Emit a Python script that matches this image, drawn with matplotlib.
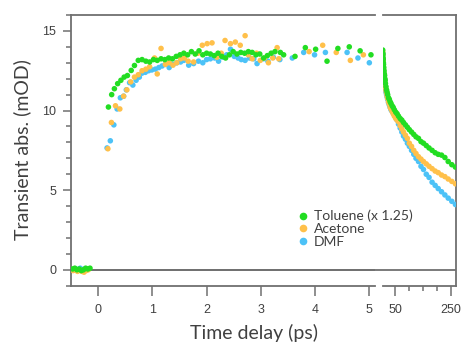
import numpy as np
import matplotlib.pyplot as plt
from matplotlib.ticker import MultipleLocator, FixedLocator

# --- early delays (linear panel, ps) ---
tol_t = [-0.47, -0.43, -0.39, -0.35, -0.31, -0.27, -0.23, -0.19, -0.15,
         0.19, 0.25, 0.30, 0.36, 0.42, 0.48, 0.54, 0.61, 0.67, 0.74, 0.81, 0.88, 0.95,
         1.02, 1.09, 1.16, 1.23, 1.30, 1.37, 1.44, 1.51, 1.58, 1.65, 1.72, 1.79, 1.86,
         1.93, 2.00, 2.07, 2.14, 2.21, 2.28, 2.35, 2.42, 2.49, 2.56, 2.63, 2.70, 2.77,
         2.84, 2.91, 2.98, 3.05, 3.12, 3.19, 3.26, 3.36, 3.42, 3.63, 3.82, 4.01, 4.22,
         4.42, 4.63, 4.83, 5.03]
tol_v = [0.05, 0.1, 0.0, 0.05, -0.05, 0.0, 0.1, 0.05, 0.1,
         10.22, 11.0, 11.37, 11.69, 11.9, 12.1, 12.2, 12.52, 12.83, 13.15, 13.2, 13.1, 13.05,
         13.2, 13.15, 13.25, 13.2, 13.3, 13.25, 13.4, 13.5, 13.6, 13.5, 13.7, 13.55, 13.75,
         13.5, 13.6, 13.55, 13.45, 13.6, 13.4, 13.3, 13.5, 13.7, 13.55, 13.65, 13.6, 13.7,
         13.65, 13.5, 13.55, 13.3, 13.45, 13.6, 13.7, 13.65, 13.5, 13.4, 13.95, 13.85, 13.1,
         13.9, 14.0, 13.75, 13.5]

ace_t = [-0.46, -0.42, -0.38, -0.34, -0.30, -0.26, -0.22, -0.18,
         0.18, 0.245, 0.32, 0.40, 0.47, 0.53, 0.60, 0.67, 0.74, 0.81, 0.88, 0.95,
         1.04, 1.09, 1.16, 1.24, 1.31, 1.38, 1.45, 1.52, 1.59, 1.66, 1.76, 1.84, 1.92,
         2.01, 2.10, 2.19, 2.27, 2.34, 2.44, 2.53, 2.62, 2.71, 2.77, 2.84, 2.92, 2.99,
         3.07, 3.14, 3.22, 3.30, 3.33, 3.89, 4.14, 4.39, 4.65, 4.89]
ace_v = [-0.05, 0.0, -0.1, 0.0, -0.1, -0.15, -0.05, 0.0,
         7.6, 9.25, 10.3, 10.1, 10.9, 11.3, 11.8, 12.1, 12.25, 12.5, 12.6, 12.75,
         13.3, 12.3, 13.9, 12.9, 13.0, 12.85, 13.0, 13.25, 13.3, 13.1, 13.05, 13.6, 14.1,
         14.2, 14.25, 13.35, 13.6, 14.4, 14.2, 14.3, 14.1, 14.7, 13.5, 13.25, 13.6, 13.15,
         13.3, 13.0, 13.3, 13.95, 13.25, 13.7, 14.1, 13.65, 13.15, 13.5]

dmf_t = [-0.45, -0.41, -0.37, -0.33, -0.29, -0.25, -0.21,
         0.165, 0.225, 0.29, 0.35, 0.41, 0.47, 0.52, 0.58, 0.64, 0.70, 0.76, 0.81, 0.87,
         0.93, 0.99, 1.055, 1.12, 1.18, 1.24, 1.31, 1.38, 1.45, 1.52, 1.58, 1.67, 1.76,
         1.85, 1.93, 2.00, 2.07, 2.15, 2.22, 2.30, 2.37, 2.44, 2.51, 2.58, 2.64, 2.71,
         2.79, 2.87, 2.93, 3.05, 3.13, 3.23, 3.35, 3.58, 3.79, 3.99, 4.19, 4.59, 4.79, 5.00]
dmf_v = [0.0, 0.05, 0.0, 0.1, 0.0, 0.05, 0.0,
         7.65, 8.1, 9.1, 10.1, 10.8, 10.9, 11.3, 11.75, 11.6, 11.9, 12.1, 12.35, 12.4,
         12.5, 12.55, 12.6, 12.7, 12.8, 12.9, 12.7, 12.9, 13.0, 13.05, 13.15, 12.85, 12.95,
         13.1, 13.0, 13.2, 13.25, 13.3, 13.1, 13.35, 13.5, 13.85, 13.4, 13.3, 13.2, 13.15,
         13.3, 13.25, 12.95, 13.25, 13.1, 13.35, 13.2, 13.3, 13.65, 13.5, 13.65, 13.65, 13.3, 13.0]

# --- late delays (second panel, ps) ---
late_t = [5.2, 5.5, 6, 6.5, 7, 7.5, 8, 9, 10, 11, 12, 13, 14, 15, 17, 19, 21, 23, 26, 29,
          32, 35, 39, 43, 47, 52, 57, 62, 68, 74, 80, 87, 94, 101, 109, 117, 125, 134, 143,
          152, 162, 172, 183, 194, 205, 217, 229, 241, 254, 267]
tol_late = [13.8, 13.6, 13.5, 13.3, 13.2, 13.0, 12.9, 12.7, 12.5, 12.3, 12.2, 12.0, 11.9,
            11.7, 11.5, 11.3, 11.15, 11.0, 10.8, 10.7, 10.55, 10.45, 10.3, 10.2, 10.05, 9.9,
            9.8, 9.65, 9.5, 9.4, 9.25, 9.1, 8.95, 8.8, 8.65, 8.5, 8.35, 8.25, 8.05, 7.95, 7.8,
            7.65, 7.5, 7.35, 7.25, 7.2, 7.05, 6.8, 6.6, 6.45]
ace_late = [13.7, 13.5, 13.3, 13.1, 13.0, 12.8, 12.6, 12.4, 12.2, 12.0, 11.85, 11.7, 11.55,
            11.45, 11.25, 11.1, 10.9, 10.75, 10.55, 10.4, 10.2, 10.1, 9.95, 9.8, 9.65, 9.5,
            9.4, 9.3, 9.05, 8.85, 8.65, 8.45, 8.25, 7.95, 7.75, 7.5, 7.3, 7.1, 6.95, 6.8, 6.65,
            6.5, 6.35, 6.2, 6.1, 5.95, 5.85, 5.7, 5.55, 5.4]
dmf_late = [13.6, 13.4, 13.2, 13.0, 12.8, 12.6, 12.45, 12.25, 12.05, 11.85, 11.7, 11.55, 11.45,
            11.3, 11.15, 11.0, 10.85, 10.7, 10.5, 10.35, 10.2, 10.05, 9.95, 9.85, 9.75, 9.6,
            9.4, 9.15, 8.9, 8.65, 8.4, 8.2, 7.95, 7.75, 7.5, 7.25, 7.0, 6.8, 6.5, 6.3, 6.0,
            5.8, 5.5, 5.3, 5.1, 4.9, 4.7, 4.5, 4.3, 4.1]

green = '#22dd22'
orange = '#ffc04a'
blue = '#4cc2f7'
axcol = '#707070'
txtcol = '#404040'

fig = plt.figure(figsize=(4.64, 3.46), dpi=100)
ax1 = fig.add_axes([71/464, 1-285.7/346, (375.3-71)/464, (285.7-15)/346])
ax2 = fig.add_axes([383.5/464, 1-285.7/346, (455.7-383.5)/464, (285.7-15)/346])

ms = 16
for ax, series in [(ax1, [(dmf_t, dmf_v, blue), (ace_t, ace_v, orange), (tol_t, tol_v, green)]),
                   (ax2, [(late_t, dmf_late, blue), (late_t, ace_late, orange), (late_t, tol_late, green)])]:
    ax.axhline(0, color=axcol, lw=1.3, zorder=1)
    for x, y, c in series:
        ax.scatter(x, y, s=ms, color=c, edgecolors='none', zorder=3)
    ax.set_ylim(-1, 16)
    for s in ax.spines.values():
        s.set_color(axcol)
        s.set_linewidth(1.3)

# zero line runs through the break
ax1.axhline(0, xmin=0, xmax=1.03, color=axcol, lw=1.3, clip_on=False, zorder=1)

ax1.set_xlim(-0.5, 5.11)
ax1.spines['right'].set_visible(False)
ax1.xaxis.set_major_locator(FixedLocator([0, 1, 2, 3, 4, 5]))
ax1.yaxis.set_major_locator(MultipleLocator(5))
ax1.yaxis.set_minor_locator(MultipleLocator(1))
ax1.tick_params(axis='y', which='major', length=5.5, width=1.1, color=axcol,
                labelsize=9, labelcolor=txtcol, pad=5)
ax1.tick_params(axis='y', which='minor', length=3.5, width=1.1, color=axcol)
ax1.tick_params(axis='x', which='major', length=7, width=1.1, color=axcol,
                labelsize=9, labelcolor=txtcol, pad=6)

ax2.set_xlim(8, 268)
ax2.spines['left'].set_visible(False)
ax2.set_yticks([])
ax2.xaxis.set_major_locator(FixedLocator([50, 250]))
ax2.xaxis.set_minor_locator(FixedLocator([100, 150, 200]))
ax2.tick_params(axis='x', which='major', length=7, width=1.1, color=axcol,
                labelsize=9, labelcolor=txtcol, pad=6)
ax2.tick_params(axis='x', which='minor', length=3.5, width=1.1, color=axcol)

for lab in ax1.get_xticklabels() + ax1.get_yticklabels() + ax2.get_xticklabels():
    lab.set_family('Liberation Sans')

fig.text(254/464, 1-333/346, 'Time delay (ps)', ha='center', va='center',
         fontsize=14, color=txtcol, family='Lato')
fig.text(22/464, 1-150/346, 'Transient abs. (mOD)', ha='center', va='center',
         rotation=90, fontsize=14, color=txtcol, family='Lato')

handles = [plt.Line2D([], [], ls='none', marker='o', ms=5.5, color=c, mec='none')
           for c in (green, orange, blue)]
leg = fig.legend(handles, ['Toluene (x 1.25)', 'Acetone', 'DMF'], loc='upper left',
                 bbox_to_anchor=(292/464, 1-203/346), frameon=False, handlelength=0.6,
                 handletextpad=0.5, labelspacing=0.05, borderpad=0,
                 prop={'family': 'Lato', 'size': 10})
for t in leg.get_texts():
    t.set_color(txtcol)

fig.savefig('out.png', dpi=100)
